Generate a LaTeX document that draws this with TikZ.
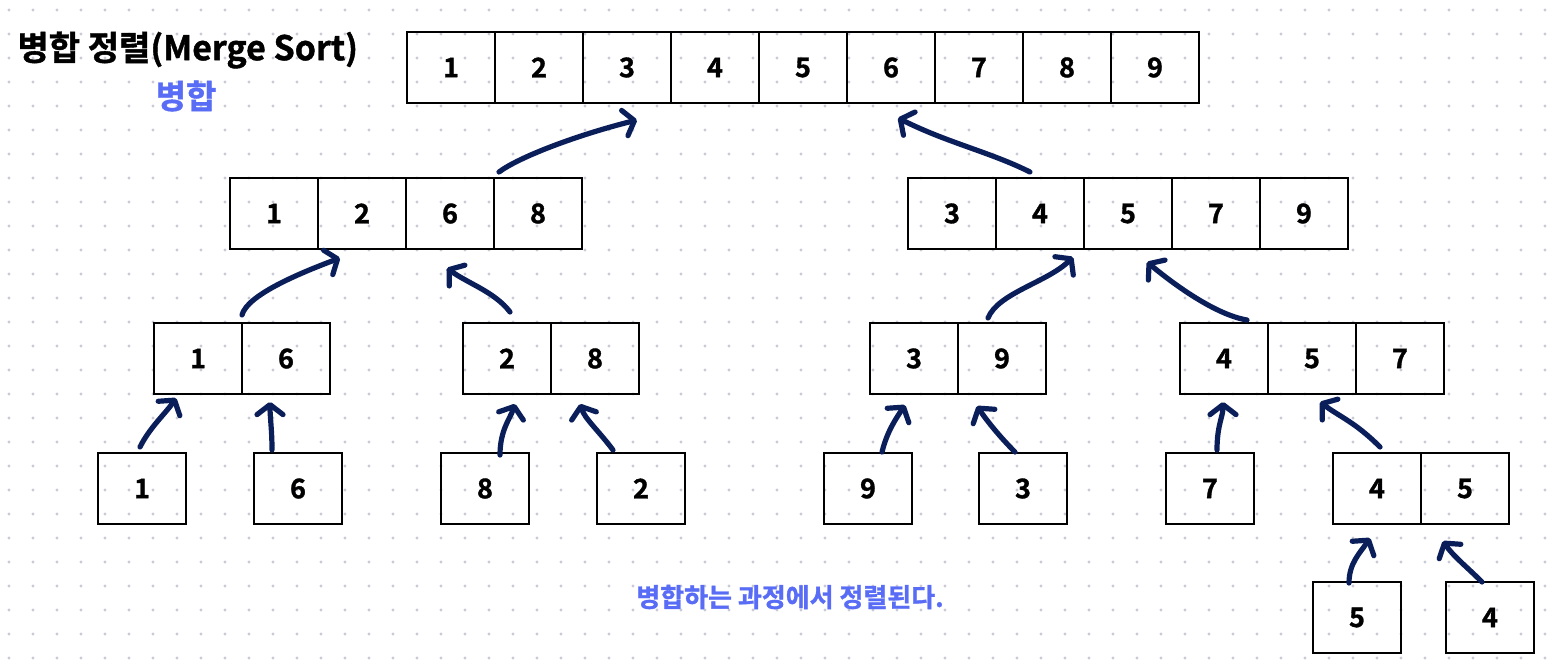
\documentclass[tikz,border=0pt]{standalone}
\usepackage{fontspec}
\setmainfont{Noto Sans CJK KR}[BoldFont={Noto Sans CJK KR Bold}, BoldFeatures={FakeBold=1.2}]
\usetikzlibrary{positioning,calc,arrows.meta}

\definecolor{navy}{RGB}{10,30,90}
\definecolor{hintblue}{RGB}{88,108,246}
\definecolor{dotgray}{RGB}{200,203,214}

\tikzset{
  cell/.style={draw=black, line width=2.8pt, minimum width=88pt, minimum height=71pt,
    inner sep=0pt, outer sep=0pt, font=\bfseries\fontsize{27}{27}\selectfont},
  mergearrow/.style={draw=navy, line width=5.2pt, line cap=round,
    -{Straight Barb[length=10pt, width=26pt, round]}}
}

\begin{document}
\begin{tikzpicture}[x=1pt, y=-1pt]
    % Background and bounding box
    \fill[white] (0,0) rectangle (1554,667);
    \useasboundingbox (0,0) rectangle (1554,667);

    % Dotted grid
    \foreach \gx in {9,33,...,1554}
      \foreach \gy in {10,34,...,667}
        \fill[dotgray] (\gx,\gy) circle (1.7);

    % Titles
    \node[anchor=west, font=\bfseries\fontsize{34}{34}\selectfont] (title) at (14,50) {병합 정렬(Merge Sort)};
    \node[text=hintblue, font=\bfseries\fontsize{33}{33}\selectfont] (subtitle) at (186,96) {병합};

    % Merged array on top
    \node[cell] (t1) at (451,67.5) {1};
    \node[cell, right=0pt of t1] (t2) {2};
    \node[cell, right=0pt of t2] (t3) {3};
    \node[cell, right=0pt of t3] (t4) {4};
    \node[cell, right=0pt of t4] (t5) {5};
    \node[cell, right=0pt of t5] (t6) {6};
    \node[cell, right=0pt of t6] (t7) {7};
    \node[cell, right=0pt of t7] (t8) {8};
    \node[cell, right=0pt of t8] (t9) {9};

    % Second level
    \node[cell] (a1) at (274,213.5) {1};
    \node[cell, right=0pt of a1] (a2) {2};
    \node[cell, right=0pt of a2] (a3) {6};
    \node[cell, right=0pt of a3] (a4) {8};

    \node[cell] (b1) at (952,213.5) {3};
    \node[cell, right=0pt of b1] (b2) {4};
    \node[cell, right=0pt of b2] (b3) {5};
    \node[cell, right=0pt of b3] (b4) {7};
    \node[cell, right=0pt of b4] (b5) {9};

    % Third level
    \node[cell] (c1) at (198,358.5) {1};
    \node[cell, right=0pt of c1] (c2) {6};
    \node[cell] (d1) at (507,358.5) {2};
    \node[cell, right=0pt of d1] (d2) {8};
    \node[cell] (e1) at (914,358.5) {3};
    \node[cell, right=0pt of e1] (e2) {9};
    \node[cell] (f1) at (1224,358.5) {4};
    \node[cell, right=0pt of f1] (f2) {5};
    \node[cell, right=0pt of f2] (f3) {7};

    % Fourth level
    \node[cell] (g1) at (142,488.5) {1};
    \node[cell] (g2) at (298,488.5) {6};
    \node[cell] (g3) at (485,488.5) {8};
    \node[cell] (g4) at (641,488.5) {2};
    \node[cell] (g5) at (868,488.5) {9};
    \node[cell] (g6) at (1023,488.5) {3};
    \node[cell] (g7) at (1210,488.5) {7};
    \node[cell] (h1) at (1377,488.5) {4};
    \node[cell, right=0pt of h1] (h2) {5};

    % Fifth level
    \node[cell] (k1) at (1357,617.5) {5};
    \node[cell] (k2) at (1490,617.5) {4};

    % Merge arrows
    \draw[mergearrow] ($(a4.north west)+(5,-6)$) .. controls +(20,-15) and +(-60,15) .. ($(t3.south)+(10,17)$);
    \draw[mergearrow] ($(b2.north)+(-10,-6)$) .. controls +(-40,-20) and +(50,25) .. ($(t6.south)+(7,15)$);
    \draw[mergearrow] ($(c2.north west)+(0,-8)$) .. controls +(5,-20) and +(-40,15) .. ($(a2.south)+(-22,9)$);
    \draw[mergearrow] ($(d1.north)+(3,-11)$) .. controls +(-15,-20) and +(20,15) .. ($(a3.south)+(-3,19)$);
    \draw[mergearrow] ($(e2.north)+(-14,-5)$) .. controls +(10,-25) and +(-25,25) .. ($(b3.south west)+(-11,8)$);
    \draw[mergearrow] ($(f1.north)+(23,-3)$) .. controls +(-30,-5) and +(30,25) .. ($(b3.south)+(19,13)$);
    \draw[mergearrow] ($(g1.north)+(-2,-6)$) .. controls +(10,-20) and +(-10,15) .. ($(c1.south)+(-22,4)$);
    \draw[mergearrow] ($(g2.north)+(-26,-3)$) .. controls +(0,-20) and +(0,15) .. ($(c2.south)+(-16,8)$);
    \draw[mergearrow] ($(g3.north)+(15,2)$) .. controls +(0,-25) and +(-5,15) .. ($(d1.south)+(8,10)$);
    \draw[mergearrow] ($(g4.north)+(-28,-3)$) .. controls +(-15,-20) and +(5,15) .. ($(d2.south)+(-15,10)$);
    \draw[mergearrow] ($(g5.north)+(14,-1)$) .. controls +(5,-20) and +(-10,15) .. ($(e1.south)+(-9,11)$);
    \draw[mergearrow] ($(g6.north)+(-8,-1)$) .. controls +(-15,-15) and +(10,15) .. ($(e2.south)+(-25,12)$);
    \draw[mergearrow] ($(g7.north)+(7,-3)$) .. controls +(0,-25) and +(0,15) .. ($(f1.south)+(-1,8)$);
    \draw[mergearrow] ($(h1.north)+(3,-6)$) .. controls +(-25,-25) and +(20,15) .. ($(f2.south)+(8,8)$);
    \draw[mergearrow] ($(k1.north)+(-8,1)$) .. controls +(0,-20) and +(-10,15) .. ($(h1.south)+(-7,14)$);
    \draw[mergearrow] ($(k2.north)+(-8,0)$) .. controls +(-15,-15) and +(10,15) .. ($(h2.south)+(-22,17)$);

    % Note at the bottom
    \node[text=hintblue, font=\bfseries\fontsize{26}{26}\selectfont] (note) at (790,597) {병합하는 과정에서 정렬된다.};
\end{tikzpicture}
\end{document}
